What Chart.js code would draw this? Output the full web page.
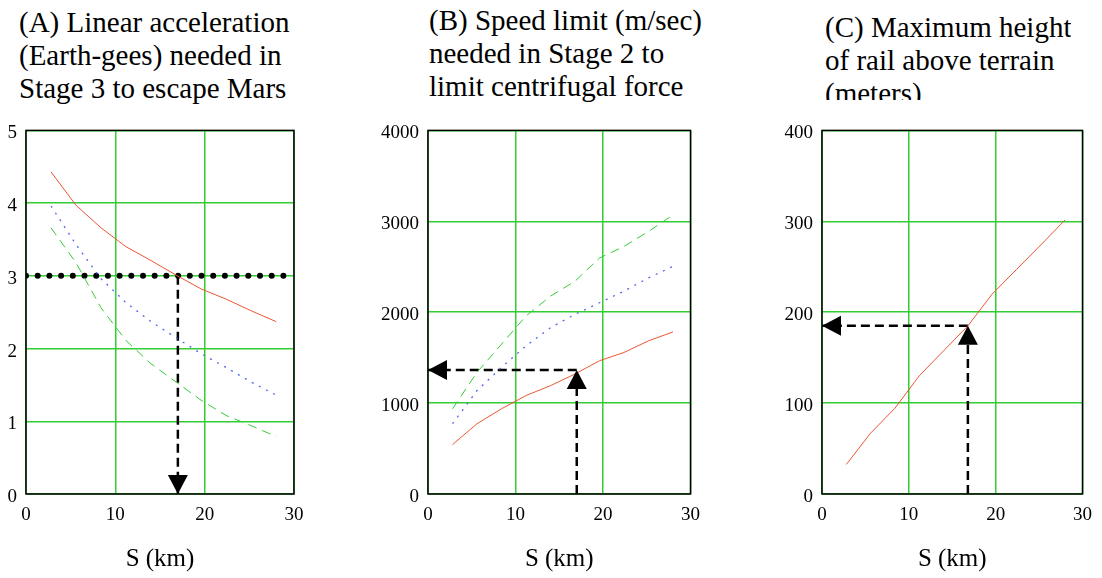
<!DOCTYPE html>
<html>
<head>
<meta charset="utf-8">
<script src="https://cdn.jsdelivr.net/npm/chart.js@4"></script>
<style>
  body { margin: 0; background: #fff; width: 1102px; height: 578px; position: relative; overflow: hidden; }
  .ttl { position: absolute; font-family: "Liberation Serif", "DejaVu Serif", serif; font-size: 29px; line-height: 33px; color: #000; white-space: pre; overflow: hidden; }
  canvas { position: absolute; }
</style>
</head>
<body>
<div class="ttl" style="left:19px; top:6px;">(A) Linear acceleration
(Earth-gees) needed in
Stage 3 to escape Mars</div>
<div class="ttl" style="left:429px; top:4px;">(B) Speed limit (m/sec)
needed in Stage 2 to
limit centrifugal force</div>
<div class="ttl" style="left:825px; top:11px; height:89px;">(C) Maximum height
of rail above terrain
(meters)</div>

<canvas id="chartA" width="320" height="468" style="left:0px; top:110px;"></canvas>
<canvas id="chartB" width="330" height="468" style="left:380px; top:110px;"></canvas>
<canvas id="chartC" width="332" height="468" style="left:770px; top:110px;"></canvas>

<script>
// S (km) sample positions shared by all curves
const sKm = [2.8, 5.6, 8.4, 11.2, 14, 16.8, 19.6, 22.4, 25.2, 28];

// (A) linear acceleration, Earth-gees
const accelRed   = [4.43, 3.97, 3.66, 3.40, 3.21, 3.01, 2.82, 2.68, 2.52, 2.37];
const accelBlue  = [3.96, 3.43, 2.96, 2.63, 2.37, 2.15, 1.93, 1.74, 1.54, 1.36];
const accelGreen = [3.66, 3.18, 2.56, 2.11, 1.79, 1.54, 1.29, 1.08, 0.94, 0.79];
const limitAX = [0, 30];
const limitAY = [3, 3];
const arrowAX = [17, 17];
const arrowAY = [3, 0];

// (B) speed limit, m/sec
const speedRed   = [543, 773, 937, 1083, 1192, 1320, 1466, 1557, 1685, 1783];
const speedBlue  = [773, 1138, 1393, 1630, 1830, 1976, 2104, 2232, 2377, 2505];
const speedGreen = [937, 1338, 1648, 1958, 2177, 2341, 2596, 2724, 2888, 3070];
const arrowBUpX = [17, 17];
const arrowBUpY = [0, 1364];
const arrowBLeftX = [17, 0];
const arrowBLeftY = [1364, 1364];

// (C) max rail height, meters
const heightRed = [32.5, 67, 94.4, 130, 157.5, 185, 220, 247, 274, 301.6];
const arrowCUpX = [16.8, 16.8];
const arrowCUpY = [0, 185];
const arrowCLeftX = [16.8, 0];
const arrowCLeftY = [185, 185];

const RED = '#ee5533';
const BLUE = '#5566ee';
const GREEN = '#33cc33';
const GRID = '#33cc33';
const SERIF = '"Liberation Serif", "DejaVu Serif", serif';

Chart.defaults.font.family = SERIF;
Chart.defaults.color = '#000';

function pts(xs, ys) {
  return xs.map((x, i) => ({ x: x, y: ys[i] }));
}

// black frame around the plot area
const frameBox = {
  id: 'frameBox',
  afterDatasetsDraw(chart) {
    const a = chart.chartArea;
    const ctx = chart.ctx;
    ctx.save();
    ctx.strokeStyle = '#000';
    ctx.lineWidth = 1.5;
    ctx.strokeRect(a.left, a.top, a.right - a.left, a.bottom - a.top);
    ctx.restore();
  }
};

// filled triangle at the last point of datasets flagged arrowHead
const arrowHeads = {
  id: 'arrowHeads',
  afterDraw(chart) {
    const ctx = chart.ctx;
    chart.data.datasets.forEach((ds, i) => {
      if (!ds.arrowHead) return;
      const p = chart.getDatasetMeta(i).data;
      const tip = p[p.length - 1], from = p[p.length - 2];
      const ang = Math.atan2(tip.y - from.y, tip.x - from.x);
      ctx.save();
      ctx.translate(tip.x, tip.y);
      ctx.rotate(ang);
      ctx.beginPath();
      ctx.moveTo(0, 0);
      ctx.lineTo(-19, -10);
      ctx.lineTo(-19, 10);
      ctx.closePath();
      ctx.fillStyle = '#000';
      ctx.fill();
      ctx.restore();
    });
  }
};

function curve(xs, ys, color, dash, width) {
  return {
    data: pts(xs, ys),
    borderColor: color,
    borderWidth: width,
    borderDash: dash,
    pointRadius: 0,
    fill: false
  };
}

function arrowLine(xs, ys) {
  return {
    data: pts(xs, ys),
    borderColor: '#000',
    borderWidth: 2.5,
    borderDash: [9, 5],
    pointRadius: 0,
    fill: false,
    arrowHead: true
  };
}

function makePanel(id, yAxisWidth, padRight, yMax, yStep, datasets) {
  new Chart(document.getElementById(id), {
    type: 'line',
    data: { datasets: datasets },
    plugins: [frameBox, arrowHeads],
    options: {
      responsive: false,
      animation: false,
      layout: { padding: { top: 18, right: padRight, left: 0, bottom: 0 } },
      plugins: { legend: { display: false }, tooltip: { enabled: false } },
      scales: {
        x: {
          type: 'linear',
          min: 0,
          max: 30,
          ticks: { stepSize: 10, padding: 10, font: { size: 19 }, maxRotation: 0, callback: v => String(v) },
          grid: { color: GRID, lineWidth: 1.5, drawTicks: false },
          border: { display: false },
          title: { display: true, text: 'S (km)', font: { size: 25 }, padding: { top: 0, bottom: 4 } },
          afterFit(scale) { scale.height = 84; }
        },
        y: {
          min: 0,
          max: yMax,
          ticks: { stepSize: yStep, padding: 9, labelOffset: 3, font: { size: 19 }, callback: v => String(v) },
          grid: { color: GRID, lineWidth: 1.5, drawTicks: false },
          border: { display: false },
          afterFit(scale) { scale.width = yAxisWidth; }
        }
      }
    }
  });
}

makePanel('chartA', 26, 26, 5, 1, [
  curve(sKm, accelRed, RED, [], 1),
  curve(sKm, accelBlue, BLUE, [2, 6], 1.3),
  curve(sKm, accelGreen, GREEN, [9, 6], 1),
  {
    data: pts(limitAX, limitAY),
    borderColor: '#000',
    borderWidth: 6,
    borderDash: [0, 11.7],
    borderCapStyle: 'round',
    pointRadius: 0,
    fill: false
  },
  arrowLine(arrowAX, arrowAY)
]);

makePanel('chartB', 48, 13, 4000, 1000, [
  curve(sKm, speedRed, RED, [], 1),
  curve(sKm, speedBlue, BLUE, [2, 6], 1.3),
  curve(sKm, speedGreen, GREEN, [9, 6], 1),
  arrowLine(arrowBUpX, arrowBUpY),
  arrowLine(arrowBLeftX, arrowBLeftY)
]);

makePanel('chartC', 52, 12, 400, 100, [
  curve(sKm, heightRed, RED, [], 1),
  arrowLine(arrowCUpX, arrowCUpY),
  arrowLine(arrowCLeftX, arrowCLeftY)
]);
</script>
</body>
</html>
